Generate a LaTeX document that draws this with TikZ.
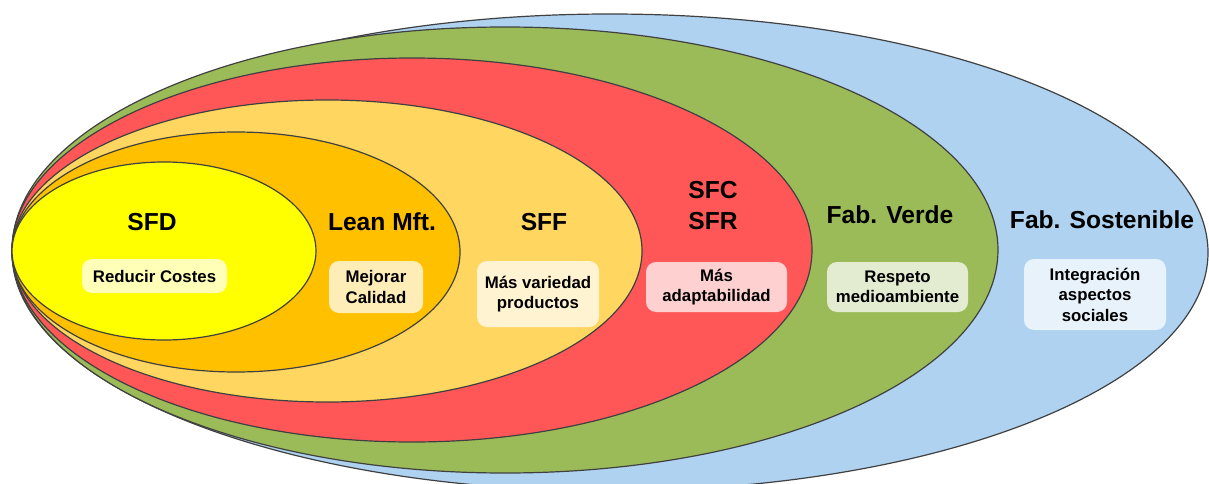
\documentclass[tikz,border=0pt]{standalone}
\usepackage{fontspec}
\setmainfont{Liberation Sans}
\definecolor{ringline}{HTML}{404040}
\definecolor{cblue}{HTML}{AED2F0}
\definecolor{cgreen}{HTML}{9BBB59}
\definecolor{cred}{HTML}{FF5757}
\definecolor{cgold}{HTML}{FFD65F}
\definecolor{corange}{HTML}{FFC000}
\definecolor{cyellow}{HTML}{FFFF00}
\begin{document}
\begin{tikzpicture}[x=1pt,y=-1pt,
  ring/.style={draw=ringline, line width=1.2pt},
  title/.style={font=\fontsize{24.6}{31}\selectfont\bfseries, align=center, inner sep=0pt},
  tag/.style={fill=white, fill opacity=0.72, text opacity=1, rounded corners=10pt,
    inner sep=0pt, align=center, font=\fontsize{16.8}{20.5}\selectfont\bfseries}]
\useasboundingbox (0,0) rectangle (1209,484);

% nested manufacturing paradigms, outermost first
\begin{scope}
\clip (0,0) rectangle (1209,484);
\filldraw[ring, fill=cblue]   (610,252.5) ellipse [x radius=598, y radius=238.5];
\end{scope}
\filldraw[ring, fill=cgreen]  (505,250) ellipse [x radius=493, y radius=223];
\filldraw[ring, fill=cred]    (412,250) ellipse [x radius=400, y radius=192];
\filldraw[ring, fill=cgold]   (327,251) ellipse [x radius=315, y radius=151];
\filldraw[ring, fill=corange] (236,252) ellipse [x radius=224, y radius=120];
\filldraw[ring, fill=cyellow] (164,251) ellipse [x radius=152, y radius=89];

% paradigm names
\node[title, anchor=base] (sfd)   at (152,230) {SFD};
\node[title, anchor=base] (lean)  at (382,230) {Lean Mft.};
\node[title, anchor=base] (sff)   at (544,230) {SFF};
\node[title]              (sfc)   at (713,206) {SFC\\SFR};
\node[title, anchor=base] (verde) at (890,223) {Fab. Verde};
\node[title, anchor=base] (sost)  at (1102,228) {Fab. Sostenible};

% goals of each paradigm
\node[tag, minimum width=145, minimum height=34] (g1) at (154.5,276) {Reducir Costes};
\node[tag, minimum width=94,  minimum height=52] (g2) at (376,287) {Mejorar\\Calidad};
\node[tag, minimum width=122, minimum height=66] (g3) at (538,294) {Más variedad\\productos};
\node[tag, minimum width=141, minimum height=50] (g4) at (716.5,287) {Más\\adaptabilidad};
\node[tag, minimum width=141, minimum height=50] (g5) at (897.5,287) {Respeto\\medioambiente};
\node[tag, minimum width=142, minimum height=71] (g6) at (1095,294.5) {Integración\\aspectos\\sociales};
\end{tikzpicture}
\end{document}
